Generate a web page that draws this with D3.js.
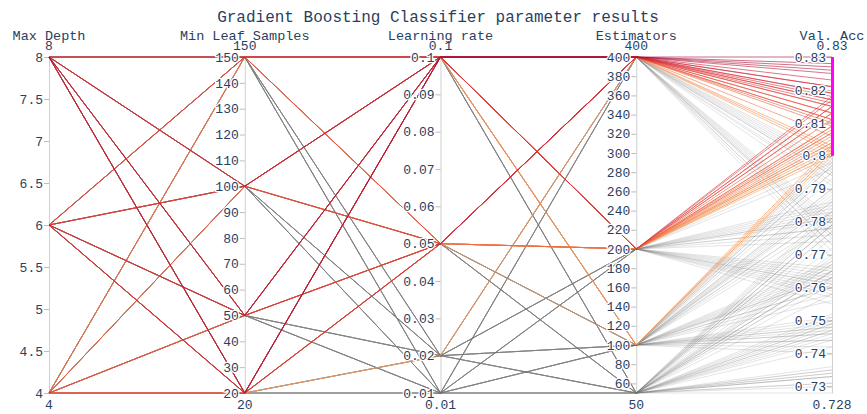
<html>
  <head>
    <script src="https://d3js.org/d3.v7.min.js"></script>
    <style>
      body { margin: 0; background: white; }
      text { font-family: "Liberation Mono", monospace; fill: #2a3f5f; }
      .tick text, .range {
        font-size: 13px;
        paint-order: stroke;
        stroke: white;
        stroke-width: 2.5px;
        stroke-linejoin: round;
      }
      .axis .domain { stroke: #444; stroke-opacity: 0.25; }
      .axis .tick line { stroke: #444; stroke-opacity: 0.35; }
    </style>
  </head>
  <body>
    <svg id="chart" width="867" height="414"></svg>
    <script>
      // grid search levels
      const dims = ["Max Depth", "Min Leaf Samples", "Learning rate", "Estimators", "Val. Acc"];
      const maxDepth = [4, 6, 8];
      const minLeaf = [20, 50, 100, 150];
      const learningRate = [0.01, 0.02, 0.05, 0.1];
      const estimators = [50, 100, 200, 400];

      // validation accuracy, ordered depth > leaf > learning rate > estimators
      const valAcc = [
        // depth 4
        0.733,0.747,0.761,0.776, 0.748,0.763,0.781,0.801, 0.765,0.786,0.801,0.811, 0.779,0.797,0.809,0.818,
        0.731,0.744,0.759,0.773, 0.746,0.760,0.778,0.794, 0.763,0.783,0.800,0.809, 0.777,0.795,0.807,0.816,
        0.730,0.742,0.757,0.771, 0.744,0.758,0.776,0.791, 0.761,0.781,0.798,0.806, 0.775,0.793,0.804,0.813,
        0.728,0.740,0.755,0.769, 0.742,0.756,0.774,0.789, 0.758,0.779,0.796,0.803, 0.772,0.790,0.802,0.810,
        // depth 6
        0.735,0.749,0.764,0.779, 0.750,0.766,0.784,0.802, 0.768,0.789,0.806,0.817, 0.782,0.801,0.815,0.825,
        0.734,0.748,0.762,0.777, 0.749,0.764,0.782,0.797, 0.767,0.787,0.804,0.815, 0.781,0.799,0.813,0.823,
        0.733,0.746,0.760,0.775, 0.747,0.762,0.780,0.795, 0.765,0.785,0.803,0.813, 0.779,0.797,0.811,0.821,
        0.731,0.744,0.758,0.773, 0.745,0.760,0.778,0.792, 0.763,0.783,0.801,0.811, 0.777,0.795,0.809,0.819,
        // depth 8
        0.736,0.751,0.766,0.781, 0.752,0.768,0.786,0.799, 0.770,0.801,0.808,0.821, 0.784,0.803,0.818,0.830,
        0.735,0.750,0.765,0.780, 0.751,0.767,0.785,0.798, 0.769,0.790,0.807,0.819, 0.783,0.802,0.817,0.828,
        0.734,0.748,0.763,0.778, 0.749,0.765,0.783,0.796, 0.767,0.788,0.805,0.817, 0.781,0.800,0.815,0.826,
        0.733,0.746,0.761,0.776, 0.747,0.763,0.781,0.794, 0.765,0.786,0.803,0.815, 0.779,0.798,0.813,0.827
      ];

      const depthTicks = [4, 4.5, 5, 5.5, 6, 6.5, 7, 7.5, 8];
      const leafTicks = [20, 30, 40, 50, 60, 70, 80, 90, 100, 110, 120, 130, 140, 150];
      const lrTicks = [0.01, 0.02, 0.03, 0.04, 0.05, 0.06, 0.07, 0.08, 0.09, 0.1];
      const estTicks = [60, 80, 100, 120, 140, 160, 180, 200, 220, 240, 260, 280, 300, 320, 340, 360, 380, 400];
      const accTicks = [0.73, 0.74, 0.75, 0.76, 0.77, 0.78, 0.79, 0.8, 0.81, 0.82, 0.83];
      const accRange = [0.80, 0.83]; // selected constraint range

      const rows = [];
      let i = 0;
      maxDepth.forEach(d => minLeaf.forEach(l => learningRate.forEach(r => estimators.forEach(e => {
        rows.push({"Max Depth": d, "Min Leaf Samples": l, "Learning rate": r, "Estimators": e, "Val. Acc": valAcc[i++]});
      }))));

      const svg = d3.select("#chart");
      const yTop = 57, yBottom = 393;

      const x = d3.scalePoint().domain(dims).range([49, 832]);
      const ticks = {
        "Max Depth": depthTicks, "Min Leaf Samples": leafTicks, "Learning rate": lrTicks,
        "Estimators": estTicks, "Val. Acc": accTicks
      };
      const y = {};
      dims.forEach(k => {
        y[k] = d3.scaleLinear().domain(d3.extent(rows, r => r[k])).range([yBottom, yTop]);
      });

      const color = d3.scaleLinear()
        .domain([0.80, 0.81, 0.82, 0.83])
        .range(["#f5a35e", "#ea5a3c", "#d42a3c", "#9e0b3a"]);

      const line = d3.line().x(d => x(d[0])).y(d => y[d[0]](d[1]));
      const pathOf = r => line(dims.map(k => [k, r[k]]));
      const inRange = r => r["Val. Acc"] >= accRange[0] && r["Val. Acc"] <= accRange[1];

      svg.append("g").selectAll("path")
        .data(rows.filter(r => !inRange(r)))
        .join("path")
        .attr("d", pathOf)
        .attr("fill", "none")
        .attr("stroke", "#777")
        .attr("stroke-opacity", 0.2)
        .attr("stroke-width", 1);

      svg.append("g").selectAll("path")
        .data(rows.filter(inRange).sort((a, b) => a["Val. Acc"] - b["Val. Acc"]))
        .join("path")
        .attr("d", pathOf)
        .attr("fill", "none")
        .attr("stroke", r => color(r["Val. Acc"]))
        .attr("stroke-opacity", 0.6)
        .attr("stroke-width", 1);

      dims.forEach(k => {
        const g = svg.append("g")
          .attr("class", "axis")
          .attr("transform", `translate(${x(k)},0)`)
          .call(d3.axisLeft(y[k]).tickValues(ticks[k]).tickSize(5).tickPadding(1).tickSizeOuter(0).tickFormat(String));
        g.selectAll(".tick text").attr("fill", "#2a3f5f").style("font-size", "13px");

        const dom = y[k].domain();
        g.append("text").attr("class", "range")
          .attr("y", yTop - 7).attr("text-anchor", "middle").text(String(dom[1]));
        g.append("text").attr("class", "range")
          .attr("y", yBottom + 16).attr("text-anchor", "middle").text(String(dom[0]));
        g.append("text")
          .attr("y", 40).attr("text-anchor", "middle")
          .style("font-size", "13.5px")
          .text(k);
      });

      // constraint bar on the accuracy axis
      svg.append("rect")
        .attr("x", x("Val. Acc") - 1)
        .attr("width", 3)
        .attr("y", y["Val. Acc"](accRange[1]))
        .attr("height", y["Val. Acc"](accRange[0]) - y["Val. Acc"](accRange[1]))
        .attr("fill", "magenta");

      svg.append("text")
        .attr("x", 438).attr("y", 22)
        .attr("text-anchor", "middle")
        .style("font-size", "16px")
        .text("Gradient Boosting Classifier parameter results");
    </script>
  </body>
</html>
